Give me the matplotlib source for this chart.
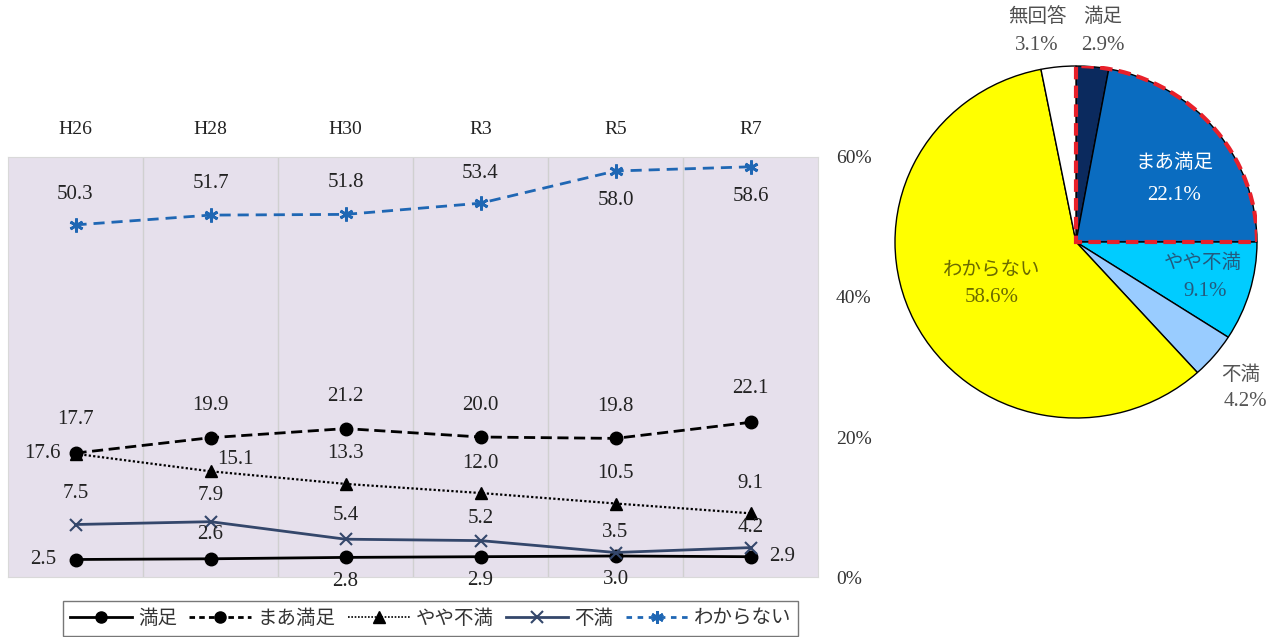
import matplotlib.pyplot as plt
from matplotlib.lines import Line2D
from matplotlib.patches import Wedge

plt.rcParams['font.family'] = ['Noto Sans CJK JP', 'DejaVu Sans']
NUM_FONT = ['Liberation Serif', 'DejaVu Serif']

years = ['H26', 'H28', 'H30', 'R3', 'R5', 'R7']
manzoku = [2.5, 2.6, 2.8, 2.9, 3.0, 2.9]
maa_manzoku = [17.7, 19.9, 21.2, 20.0, 19.8, 22.1]
yaya_fuman = [17.6, 15.1, 13.3, 12.0, 10.5, 9.1]
fuman = [7.5, 7.9, 5.4, 5.2, 3.5, 4.2]
wakaranai = [50.3, 51.7, 51.8, 53.4, 58.0, 58.6]

pie_labels = ['満足', 'まあ満足', 'やや不満', '不満', 'わからない', '無回答']
pie_values = [2.9, 22.1, 9.1, 4.2, 58.6, 3.1]
pie_colors = ['#0b2a5e', '#0a6cc0', '#00ccff', '#99ccff', '#ffff00', '#ffffff']

fig = plt.figure(figsize=(12.71, 6.37), dpi=100)
W, H = 1271, 637

# ---- line chart ----
ax = fig.add_axes([8 / W, 60 / H, 810 / W, 420 / H])
ax.set_facecolor('#e6e0ec')
x = list(range(len(years)))

ax.plot(x, manzoku, color='black', lw=2, marker='o', ms=9, label='満足')
ax.plot(x, maa_manzoku, color='black', lw=2, ls=(0, (4, 2)), marker='o', ms=9, label='まあ満足')
ax.plot(x, yaya_fuman, color='black', lw=1.6, ls=(0, (1, 1)), marker='^', ms=9, label='やや不満')
ax.plot(x, fuman, color='#34476b', lw=2, marker='x', ms=9, mew=1.5, label='不満')
ax.plot(x, wakaranai, color='#1f67b4', lw=2, ls=(0, (4, 2.5)), marker=(6, 2, 0), ms=10, mew=2,
        label='わからない')

def put(xs, ys, offsets):
    for xi, yi, (dx, dy) in zip(xs, ys, offsets):
        ax.annotate(f'{yi:.1f}', (xi, yi), xytext=(dx, dy), textcoords='offset pixels',
                    ha='center', va='center', fontsize=15, family=NUM_FONT, color='#222222')

put(x, wakaranai, [(0, 30), (0, 32), (0, 32), (0, 30), (0, -30), (0, -30)])
put(x, maa_manzoku, [(0, 34), (0, 32), (0, 32), (0, 32), (0, 32), (0, 34)])
put(x, yaya_fuman, [(-33, 0), (25, 12), (0, 30), (0, 30), (0, 30), (0, 30)])
put(x, fuman, [(0, 31), (0, 26), (0, 24), (0, 22), (0, 20), (0, 20)])
put(x, manzoku, [(-32, 0), (0, 24), (0, -24), (0, -24), (0, -24), (32, 0)])

ax.set_xlim(-0.5, 5.5)
ax.set_ylim(0, 60)
ax.xaxis.tick_top()
ax.set_xticks(x)
ax.set_xticklabels(years, family=NUM_FONT, fontsize=14, color='#222222')
ax.set_xticks([i + 0.5 for i in range(5)], minor=True)
ax.grid(True, which='minor', axis='x', color='#d0d0d0', lw=1)
ax.yaxis.tick_right()
ax.set_yticks([0, 20, 40, 60])
ax.set_yticklabels(['0%', '20%', '40%', '60%'], family=NUM_FONT, fontsize=14, color='#333333')
ax.tick_params(which='both', length=0)
ax.tick_params(axis='x', pad=14)
ax.tick_params(axis='y', pad=13)
for s in ax.spines.values():
    s.set_color('#d9d9d9')

handles = [
    Line2D([], [], color='black', lw=2, marker='o', ms=8),
    Line2D([], [], color='black', lw=2, ls=(0, (2, 1.5)), marker='o', ms=8),
    Line2D([], [], color='black', lw=1.2, ls=(0, (1, 1)), marker='^', ms=8),
    Line2D([], [], color='#34476b', lw=2, marker='x', ms=8, mew=1.5),
    Line2D([], [], color='#1f67b4', lw=2, ls=(0, (2, 2)), marker=(6, 2, 0), ms=9, mew=2),
]
fig.legend(handles, ['満足', 'まあ満足', 'やや不満', '不満', 'わからない'],
           loc='upper left', bbox_to_anchor=(63 / W, -0.05, 735 / W, (H - 601) / H + 0.05),
           mode='expand', ncol=5, fontsize=14, frameon=True, fancybox=False,
           edgecolor='#555555', handlelength=3.2, handletextpad=0.3, columnspacing=1.0,
           borderpad=0.35, borderaxespad=0, labelcolor='#333333')

# ---- pie chart ----
cx, cy, rx, ry = 1076, 242, 181, 176
pax = fig.add_axes([(cx - rx) / W, (H - cy - ry) / H, 2 * rx / W, 2 * ry / H])
pax.pie(pie_values, colors=pie_colors, startangle=90, counterclock=False, radius=1,
        wedgeprops=dict(edgecolor='black', linewidth=1))
pax.set_aspect('auto')
pax.set_xlim(-1, 1)
pax.set_ylim(-1, 1)
pax.axis('off')

# outline around the two "satisfied" wedges
top_share = (pie_values[0] + pie_values[1]) * 3.6
pax.add_patch(Wedge((0, 0), 1, 90 - top_share, 90, fill=False, edgecolor='#e8202a',
                    lw=3, ls=(0, (3, 1.5)), zorder=5))

def ptext(px, py, s, color, size, fam=None):
    fam = fam or ['Noto Sans CJK JP', 'DejaVu Sans']
    pax.text((px - cx) / rx, (cy - py) / ry, s, ha='center', va='center',
             fontsize=size, color=color, family=fam)

pie_pos = {
    '満足': ((1103, 17), (1103, 45), '#505050'),
    'まあ満足': ((1174, 163), (1174, 195), 'white'),
    'やや不満': ((1203, 262), (1205, 292), '#235a7e'),
    '不満': ((1241, 375), (1245, 402), '#555555'),
    'わからない': ((992, 270), (992, 298), '#6a6a00'),
    '無回答': ((1037, 17), (1037, 45), '#505050'),
}
for lab, val in zip(pie_labels, pie_values):
    (nx, ny), (vx, vy), col = pie_pos[lab]
    ptext(nx, ny, lab, col, 14)
    ptext(vx, vy, f'{val:.1f}%', col, 15, NUM_FONT)

fig.savefig('out.png', dpi=100)
